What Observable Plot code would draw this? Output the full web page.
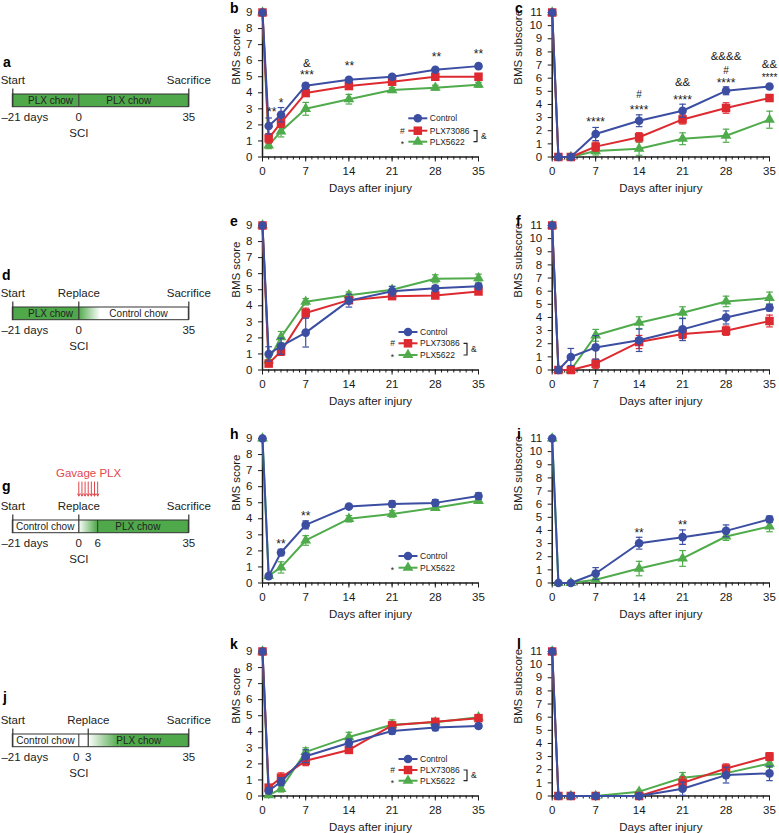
<!DOCTYPE html>
<html><head><meta charset="utf-8">
<script src="https://cdn.jsdelivr.net/npm/d3@7"></script>
<script src="https://cdn.jsdelivr.net/npm/@observablehq/plot@0.6"></script>
<style>
body{margin:0;background:#fff;}
#root{position:relative;width:779px;height:833px;overflow:hidden;background:#fff;font-family:"Liberation Sans",Arial,Helvetica,sans-serif;}
.pane{position:absolute;}
</style></head><body>
<svg width="0" height="0" style="position:absolute">
<defs>
<linearGradient id="gGW" x1="0" x2="1" y1="0" y2="0"><stop offset="0" stop-color="#4fa84a"/><stop offset="1" stop-color="#ffffff"/></linearGradient>
<linearGradient id="gWG" x1="0" x2="1" y1="0" y2="0"><stop offset="0" stop-color="#ffffff"/><stop offset="1" stop-color="#4fa84a"/></linearGradient>
</defs></svg>
<div id="root"></div>
<script>
// ---------- data ----------
const days = [0, 1, 3, 7, 14, 21, 28, 35];
const xTicks = [0, 7, 14, 21, 28, 35];

// panel b (BMS score, PLX throughout)
const bCtrl = [9, 1.93, 2.63, 4.44, 4.81, 5.0, 5.43, 5.66];
const bCtrlErr = [0, 0.5, 0.45, 0.15, 0.12, 0.12, 0.12, 0.12];
const bP73 = [9, 1.16, 2.14, 3.98, 4.42, 4.69, 5.0, 5.0];
const bP73Err = [0, 0.3, 0.3, 0.2, 0.15, 0.15, 0.15, 0.15];
const bP56 = [9, 0.72, 1.6, 3.0, 3.6, 4.17, 4.32, 4.5];
const bP56Err = [0, 0.2, 0.35, 0.4, 0.3, 0.15, 0.15, 0.15];
const bNotes = [{day:1.5,y:3.0,t:"**"},{day:3,y:3.57,t:"*"},{day:7.2,y:5.85,t:"&"},{day:7.2,y:5.27,t:"***"},{day:14.1,y:5.83,t:"**"},{day:28.2,y:6.41,t:"**"},{day:35,y:6.62,t:"**"}];

// panel c (BMS subscore)
const cCtrl = [11, 0, 0, 1.75, 2.76, 3.52, 5.04, 5.37];
const cCtrlErr = [0, 0, 0, 0.5, 0.45, 0.5, 0.3, 0.12];
const cP73 = [11, 0, 0, 0.79, 1.5, 2.86, 3.73, 4.49];
const cP73Err = [0, 0, 0, 0.35, 0.35, 0.35, 0.4, 0.15];
const cP56 = [11, 0, 0, 0.45, 0.63, 1.39, 1.62, 2.84];
const cP56Err = [0, 0, 0, 0.3, 0.5, 0.45, 0.5, 0.65];
const cNotes = [{day:7,y:2.89,t:"****"},{day:14,y:4.71,t:"#"},{day:14,y:3.83,t:"****"},{day:21,y:5.68,t:"&&"},{day:21,y:4.59,t:"****"},{day:28,y:7.63,t:"&&&&"},{day:28,y:6.6,t:"#"},{day:28,y:5.88,t:"****"},{day:35,y:7.07,t:"&&"},{day:35,y:6.19,t:"****",small:true}];

// panel e
const eCtrl = [9, 1.0, 1.48, 2.33, 4.32, 4.91, 5.09, 5.22];
const eCtrlErr = [0, 0.45, 0.5, 0.9, 0.4, 0.3, 0.15, 0.15];
const eP73 = [9, 0.4, 1.16, 3.55, 4.35, 4.6, 4.64, 4.89];
const eP73Err = [0, 0.1, 0.25, 0.3, 0.15, 0.15, 0.15, 0.15];
const eP56 = [9, 0.6, 2.05, 4.25, 4.66, 5.0, 5.68, 5.72];
const eP56Err = [0, 0.2, 0.35, 0.2, 0.2, 0.2, 0.25, 0.25];

// panel f
const fCtrl = [11, 0, 0.99, 1.72, 2.26, 3.09, 4.0, 4.74];
const fCtrlErr = [0, 0, 0.65, 0.9, 0.85, 0.85, 0.5, 0.25];
const fP73 = [11, 0, 0, 0.48, 2.13, 2.74, 2.99, 3.73];
const fP73Err = [0, 0, 0, 0.35, 0.5, 0.35, 0.35, 0.45];
const fP56 = [11, 0, 0, 2.64, 3.6, 4.36, 5.22, 5.48];
const fP56Err = [0, 0, 0, 0.45, 0.45, 0.45, 0.4, 0.45];

// panel h
const hCtrl = [9, 0.43, 1.9, 3.62, 4.76, 4.92, 4.99, 5.42];
const hCtrlErr = [0, 0.1, 0.2, 0.25, 0.1, 0.2, 0.2, 0.2];
const hP56 = [9, 0.45, 0.97, 2.65, 4.0, 4.3, 4.68, 5.12];
const hP56Err = [0, 0.1, 0.35, 0.3, 0.2, 0.2, 0.15, 0.1];
const hNotes = [{day:3,y:2.61,t:"**"},{day:7,y:4.37,t:"**"}];

// panel i
const iCtrl = [11, 0, 0, 0.72, 3.03, 3.49, 3.97, 4.85];
const iCtrlErr = [0, 0, 0, 0.45, 0.45, 0.55, 0.45, 0.25];
const iP56 = [11, 0, 0, 0.25, 1.1, 1.87, 3.54, 4.3];
const iP56Err = [0, 0, 0, 0.1, 0.55, 0.6, 0.3, 0.4];
const iNotes = [{day:14,y:4.0,t:"**"},{day:21,y:4.63,t:"**"}];

// panel k
const kCtrl = [9, 0.33, 0.89, 2.48, 3.3, 4.05, 4.27, 4.36];
const kCtrlErr = [0, 0.15, 0.25, 0.4, 0.25, 0.2, 0.2, 0.15];
const kP73 = [9, 0.52, 1.14, 2.19, 2.87, 4.4, 4.62, 4.85];
const kP73Err = [0, 0.15, 0.3, 0.3, 0.15, 0.2, 0.15, 0.15];
const kP56 = [9, 0.06, 0.45, 2.75, 3.67, 4.44, 4.6, 4.9];
const kP56Err = [0, 0.05, 0.2, 0.25, 0.3, 0.3, 0.15, 0.15];

// panel l
const lCtrl = [11, 0, 0, 0, 0, 0.55, 1.59, 1.72];
const lCtrlErr = [0, 0, 0, 0, 0, 0.5, 0.6, 0.55];
const lP73 = [11, 0, 0, 0, 0, 1.0, 2.09, 3.0];
const lP73Err = [0, 0, 0, 0, 0, 0.45, 0.35, 0.3];
const lP56 = [11, 0, 0, 0, 0.33, 1.39, 1.74, 2.47];
const lP56Err = [0, 0, 0, 0, 0.1, 0.4, 0.3, 0.3];

// schematic timelines (days relative to SCI)
const aSegs = [{a:-21,b:0,fill:"G"},{a:0,b:35,fill:"G"}];
const dSegs = [{a:-21,b:0,fill:"G"},{a:0,b:7,fill:"GW"},{a:7,b:35,fill:"W"}];
const gSegs = [{a:-21,b:0,fill:"W"},{a:0,b:6,fill:"WG"},{a:6,b:35,fill:"G"}];
const jSegs = [{a:-21,b:3,fill:"W"},{a:3,b:13,fill:"WG"},{a:13,b:35,fill:"G"}];
const aBarText = [{x:-9,t:"PLX chow"},{x:15.9,t:"PLX chow"}];
const dBarText = [{x:-9,t:"PLX chow"},{x:19,t:"Control chow"}];
const gBarText = [{x:-10.7,t:"Control chow"},{x:18.8,t:"PLX chow"}];
const jBarText = [{x:-10.6,t:"Control chow"},{x:19.1,t:"PLX chow"}];
const gavageDays = [0, 1, 2, 3, 4, 5, 6];

// ---------- style ----------
const BLUE = "#3b4ea2", RED = "#dc2a30", GREEN = "#4fab4b", AX = "#1a1a1a";
const FILLS = {G: "#4fa84a", W: "#ffffff", GW: "url(#gGW)", WG: "url(#gWG)"};
const FONT = '"Liberation Sans", Arial, Helvetica, sans-serif';
const root = document.getElementById("root");

function place(node, left, top, w) {
  const div = document.createElement("div");
  div.className = "pane";
  div.style.left = left + "px"; div.style.top = top + "px"; div.style.width = w + "px";
  div.appendChild(node); root.appendChild(div);
}

const capSymbol = {draw(ctx) { ctx.moveTo(-3.3, 0); ctx.lineTo(3.3, 0); }};

function seriesMarks(vals, errs, color, symbol, r) {
  const rows = days.map((d, i) => ({day: d, v: vals[i], e: errs[i]}));
  const eb = rows.filter(q => q.e > 0);
  const caps = eb.flatMap(q => [{day: q.day, y: q.v - q.e}, {day: q.day, y: q.v + q.e}]);
  return [
    Plot.line(rows, {x: "day", y: "v", stroke: color, strokeWidth: 2}),
    Plot.ruleX(eb, {x: "day", y1: q => q.v - q.e, y2: q => q.v + q.e, stroke: color, strokeWidth: 1.2}),
    Plot.dot(caps, {x: "day", y: "y", symbol: capSymbol, fill: "none", stroke: color, strokeWidth: 1.2}),
    Plot.dot(rows, {x: "day", y: "v", symbol, r, fill: color, stroke: "none"})
  ];
}

const COL_B = {left: 190, width: 300, ml: 72, pw: 216, labOff: 31};
const COL_C = {left: 480, width: 299, ml: 71.7, pw: 217.3, labOff: 38};
const ROW_TOP = [-0.3, 213, 425.7, 638.7];

function chart(col, row, ymax, ylabel, series, notes) {
  const H = 200, mt = 12, ph = 144.5;
  const marks = [
    Plot.axisX(d3.range(0, 36), {tickSize: 3, tickFormat: () => "", label: null, stroke: AX}),
    Plot.axisX(xTicks, {tickSize: 5, tickPadding: 5, label: null, stroke: AX}),
    Plot.axisY(d3.range(0, ymax + 1), {tickSize: 4, tickPadding: 6, label: null, stroke: AX}),
    Plot.text(["Days after injury"], {frameAnchor: "bottom", lineAnchor: "top", dy: 26.5, text: d => d, fontSize: 11.5, fill: AX}),
    Plot.text([ylabel], {frameAnchor: "left", rotate: -90, lineAnchor: "top", dx: -col.labOff, text: d => d, fontSize: 11.5, fill: AX}),
    Plot.ruleY([0], {stroke: AX, strokeWidth: 1.5}),
    Plot.ruleX([0], {stroke: AX, strokeWidth: 1.5})
  ];
  for (const s of series) marks.push(...seriesMarks(...s));
  if (notes) {
    const stars = notes.filter(n => n.t.includes("*") && !n.small);
    const small = notes.filter(n => n.small);
    const amp = notes.filter(n => n.t.includes("&"));
    const hash = notes.filter(n => n.t.includes("#"));
    marks.push(Plot.text(stars, {x: "day", y: "y", text: "t", fontSize: 12, dy: 3, fill: AX}));
    marks.push(Plot.text(small, {x: "day", y: "y", text: "t", fontSize: 10, dy: 2.5, fill: AX}));
    marks.push(Plot.text(amp, {x: "day", y: "y", text: "t", fontSize: 11.5, fill: AX}));
    marks.push(Plot.text(hash, {x: "day", y: "y", text: "t", fontSize: 10, fill: AX}));
  }
  const svg = Plot.plot({
    width: col.width, height: H,
    marginLeft: col.ml, marginRight: col.width - col.ml - col.pw,
    marginTop: mt, marginBottom: H - mt - ph,
    x: {domain: [0, 35]}, y: {domain: [0, ymax]},
    style: `background: transparent; overflow: visible; font-family: ${FONT}; font-size: 11.5px; color: ${AX};`,
    marks
  });
  place(svg, col.left, ROW_TOP[row], col.width);
}

chart(COL_B, 0, 9, "BMS score", [[bP56, bP56Err, GREEN, "triangle", 4], [bP73, bP73Err, RED, "square", 4.8], [bCtrl, bCtrlErr, BLUE, "circle", 4.3]], bNotes);
chart(COL_C, 0, 11, "BMS subscore", [[cP56, cP56Err, GREEN, "triangle", 4], [cP73, cP73Err, RED, "square", 4.8], [cCtrl, cCtrlErr, BLUE, "circle", 4.3]], cNotes);
chart(COL_B, 1, 9, "BMS score", [[eP56, eP56Err, GREEN, "triangle", 4], [eP73, eP73Err, RED, "square", 4.8], [eCtrl, eCtrlErr, BLUE, "circle", 4.3]], null);
chart(COL_C, 1, 11, "BMS subscore", [[fP56, fP56Err, GREEN, "triangle", 4], [fP73, fP73Err, RED, "square", 4.8], [fCtrl, fCtrlErr, BLUE, "circle", 4.3]], null);
chart(COL_B, 2, 9, "BMS score", [[hP56, hP56Err, GREEN, "triangle", 4], [hCtrl, hCtrlErr, BLUE, "circle", 4.3]], hNotes);
chart(COL_C, 2, 11, "BMS subscore", [[iP56, iP56Err, GREEN, "triangle", 4], [iCtrl, iCtrlErr, BLUE, "circle", 4.3]], iNotes);
chart(COL_B, 3, 9, "BMS score", [[kP56, kP56Err, GREEN, "triangle", 4], [kP73, kP73Err, RED, "square", 4.8], [kCtrl, kCtrlErr, BLUE, "circle", 4.3]], null);
chart(COL_C, 3, 11, "BMS subscore", [[lP56, lP56Err, GREEN, "triangle", 4], [lP73, lP73Err, RED, "square", 4.8], [lCtrl, lCtrlErr, BLUE, "circle", 4.3]], null);

// ---------- schematics ----------
function schematic(top, segs, barText, barTicks, upTicks, above, below, zeroDx, gavage) {
  const BY1 = 94, BY2 = 106.7;
  const marks = [
    Plot.rect(segs, {x1: "a", x2: "b", y1: BY1, y2: BY2, fill: s => FILLS[s.fill]}),
    Plot.rect([{a: -21, b: 35}], {x1: "a", x2: "b", y1: BY1, y2: BY2, fill: "none", stroke: "#333", strokeWidth: 1}),
    Plot.ruleX(barTicks, {x: d => d, y1: BY1, y2: BY2, stroke: "#333", strokeWidth: 1}),
    Plot.ruleX(upTicks, {x: d => d, y1: 88.5, y2: BY2, stroke: "#333", strokeWidth: 1.2}),
    Plot.text(barText, {x: "x", y: 100.6, text: "t", fontSize: 10, fill: "#222"}),
    Plot.text(above, {x: "x", y: 79.5, text: "t", fontSize: 11.5, fill: "#222"}),
    Plot.text(["\u201321 days"], {x: -21, y: 116.6, dx: 12, text: d => d, fontSize: 11.5, fill: "#222"}),
    Plot.text(["0"], {x: 0, y: 116.6, dx: zeroDx, text: d => d, fontSize: 11.5, fill: "#222"}),
    Plot.text(below, {x: "x", y: 116.6, text: "t", fontSize: 11.5, fill: "#222"}),
    Plot.text(["SCI"], {x: 0, y: 133.3, text: d => d, fontSize: 11.5, fill: "#222"})
  ];
  if (gavage) {
    marks.push(Plot.arrow(gavage, {x1: d => d, x2: d => d, y1: 55.5, y2: 69.5, stroke: "#e2474b", strokeWidth: 1, headLength: 3.5}));
    marks.push(Plot.text(["Gavage PLX"], {x: 3.1, y: 47.3, text: d => d, fontSize: 11.5, fill: "#e2474b"}));
  }
  const svg = Plot.plot({
    width: 200, height: 200, marginLeft: 12.3, marginRight: 11.7, marginTop: 0, marginBottom: 0,
    x: {domain: [-21, 35], axis: null}, y: {type: "identity", axis: null}, color: {type: "identity"},
    style: `background: transparent; overflow: visible; font-family: ${FONT}; font-size: 11.5px;`,
    marks
  });
  place(svg, 0, top, 200);
}
schematic(0, aSegs, aBarText, [0], [-21, 35], [{x: -21, t: "Start"}, {x: 35, t: "Sacrifice"}], [{x: 35, t: "35"}], 0);
schematic(212.7, dSegs, dBarText, [], [-21, 0, 35], [{x: -21, t: "Start"}, {x: 0, t: "Replace"}, {x: 35, t: "Sacrifice"}], [{x: 35, t: "35"}], 0);
schematic(425.7, gSegs, gBarText, [6], [-21, 0, 35], [{x: -21, t: "Start"}, {x: 0, t: "Replace"}, {x: 35, t: "Sacrifice"}], [{x: 6, t: "6"}, {x: 35, t: "35"}], 0, gavageDays);
schematic(639.5, jSegs, jBarText, [0], [-21, 3, 35], [{x: -21, t: "Start"}, {x: 3, t: "Replace"}, {x: 35, t: "Sacrifice"}], [{x: 3, t: "3"}, {x: 35, t: "35"}], -2.5);

// ---------- overlay: panel letters and legends ----------
const ov = d3.select(root).append("svg").attr("width", 779).attr("height", 833)
  .style("position", "absolute").style("left", 0).style("top", 0).style("pointer-events", "none")
  .style("font-family", FONT);
const letters = [{t:"a",x:3,y:67},{t:"b",x:230,y:13},{t:"c",x:515,y:13},{t:"d",x:2,y:280},{t:"e",x:230,y:226},{t:"f",x:516,y:225.5},
  {t:"g",x:2,y:491},{t:"h",x:230,y:438.5},{t:"i",x:517,y:438.5},{t:"j",x:3,y:702},{t:"k",x:230,y:648.5},{t:"l",x:517,y:648.5}];
ov.selectAll("text.letter").data(letters).join("text").attr("class", "letter")
  .attr("x", d => d.x).attr("y", d => d.y).attr("font-size", 14).attr("font-weight", "bold").attr("fill", "#000").text(d => d.t);

const SYM = {circle: [d3.symbolCircle, 4.3], square: [d3.symbolSquare, 4.8], triangle: [d3.symbolTriangle, 4]};
function legend(x0, ys, entries, bracket) {
  entries.forEach((e, i) => {
    const y = ys[i];
    ov.append("line").attr("x1", x0).attr("x2", x0 + 19).attr("y1", y).attr("y2", y).attr("stroke", e.c).attr("stroke-width", 2);
    const [type, r] = SYM[e.s];
    ov.append("path").attr("d", d3.symbol(type, r * r * Math.PI)()).attr("transform", `translate(${x0 + 9.5},${y})`).attr("fill", e.c);
    ov.append("text").attr("x", x0 + 21.5).attr("y", y).attr("dy", "0.35em").attr("font-size", 8.5).attr("fill", "#222").text(e.t);
    if (e.p) ov.append("text").attr("x", x0 - 6).attr("y", y).attr("dy", e.p === "*" ? "0.6em" : "0.35em").attr("text-anchor", "middle").attr("font-size", 8.5).attr("fill", "#222").text(e.p);
  });
  if (bracket) {
    const [bx, y1, y2] = bracket;
    ov.append("path").attr("d", `M${bx - 3.5},${y1}H${bx}V${y2}H${bx - 3.5}`).attr("fill", "none").attr("stroke", "#222").attr("stroke-width", 1.2);
    ov.append("text").attr("x", bx + 4).attr("y", (y1 + y2) / 2).attr("dy", "0.35em").attr("font-size", 8.5).attr("fill", "#222").text("&");
  }
}
const E3 = [{c: BLUE, s: "circle", t: "Control"}, {c: RED, s: "square", t: "PLX73086", p: "#"}, {c: GREEN, s: "triangle", t: "PLX5622", p: "*"}];
const E2 = [{c: BLUE, s: "circle", t: "Control"}, {c: GREEN, s: "triangle", t: "PLX5622", p: "*"}];
legend(408.3, [118.3, 130.7, 141.7], E3, [477, 130.7, 141.7]);
legend(398.5, [332, 343.3, 355], E3, [467, 343.3, 355]);
legend(398.5, [556, 567.7], E2, null);
legend(398.5, [759, 770, 780.7], E3, [467, 770, 780.7]);
</script>
</body></html>
